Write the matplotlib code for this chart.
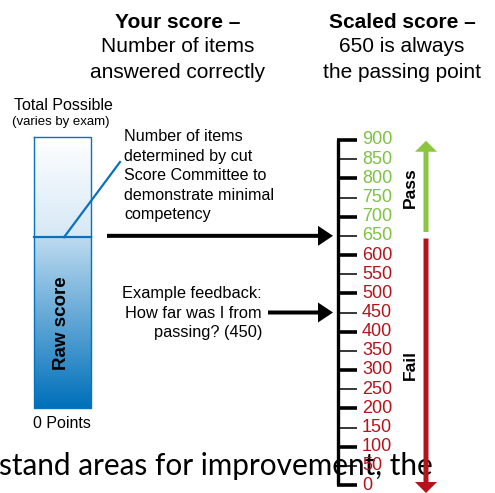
import matplotlib.pyplot as plt
import numpy as np

plt.rcParams['font.family'] = ['Liberation Sans Narrow', 'Liberation Sans', 'DejaVu Sans']

# scaled score scale
scale_ticks = [0, 50, 100, 150, 200, 250, 300, 350, 400, 450,
               500, 550, 600, 650, 700, 750, 800, 850, 900]
pass_score = 650
example_score = 450
# share of the raw score bar below the cut score
cut_fraction = 0.63

GREEN = '#8cc63f'
GREEN_TXT = '#7dc242'
RED = '#b3141c'
BLUE = '#0a72bc'

fig = plt.figure(figsize=(4.95, 4.93), dpi=100)

# layout axes in pixel units
ax = fig.add_axes([0, 0, 1, 1])
ax.set_xlim(0, 495)
ax.set_ylim(493, 0)
ax.axis('off')

# scale axes: y in score units, x in pixels
sx = fig.add_axes([0, 0, 1, 1])
sx.set_xlim(0, 495)
px = 900 / 345.0
sx.set_ylim(-8 * px, 485 * px)
sx.axis('off')
sx.patch.set_alpha(0)

# headers
ax.text(178, 22, 'Your score \u2013', ha='center', va='center', fontsize=15, fontweight='bold')
ax.text(178, 47, 'Number of items', ha='center', va='center', fontsize=15)
ax.text(178, 72, 'answered correctly', ha='center', va='center', fontsize=15)
ax.text(402, 22, 'Scaled score \u2013', ha='center', va='center', fontsize=15, fontweight='bold')
ax.text(402, 47, '650 is always', ha='center', va='center', fontsize=15)
ax.text(402, 72, 'the passing point', ha='center', va='center', fontsize=15)

# raw score bar
bx0, bx1, btop, bbot = 34, 91, 137, 408
bcut = bbot - cut_fraction * (bbot - btop)


def gradient(c0, c1, n=100):
    c0 = np.array(plt.matplotlib.colors.to_rgb(c0))
    c1 = np.array(plt.matplotlib.colors.to_rgb(c1))
    t = np.linspace(0, 1, n)[:, None]
    return (c0 + (c1 - c0) * t)[:, None, :]


ax.imshow(gradient('#ffffff', '#d6e8f5'), extent=(bx0, bx1, bcut, btop),
          origin='upper', aspect='auto', zorder=1)
ax.imshow(gradient('#bcdaef', '#0070ba'), extent=(bx0, bx1, bbot, bcut),
          origin='upper', aspect='auto', zorder=1)
ax.plot([bx0, bx1, bx1, bx0, bx0], [btop, btop, bbot, bbot, btop], color=BLUE, lw=1.0, zorder=2)
ax.plot([bx0, bx1], [bcut, bcut], color=BLUE, lw=1.6, zorder=2)
ax.plot([64, 120], [bcut, 162], color=BLUE, lw=1.6, zorder=2)

ax.text(62, 323, 'Raw score', rotation=90, ha='center', va='center', fontsize=13.5, fontweight='bold')
ax.text(14, 106, 'Total Possible', ha='left', va='center', fontsize=11.5)
ax.text(12, 122, '(varies by exam)', ha='left', va='center', fontsize=9.5)
ax.text(62, 423, '0 Points', ha='center', va='center', fontsize=11.5)

ax.text(124, 129, 'Number of items\ndetermined by cut\nScore Committee to\ndemonstrate minimal\ncompetency',
        ha='left', va='top', fontsize=11.6, linespacing=1.38)
ax.text(262, 313, 'Example feedback:\nHow far was I from\npassing? (450)',
        ha='right', va='center', fontsize=11.8, linespacing=1.38)

# scale line and ticks
sx.plot([338, 338], [0, 900], color='black', lw=2.4, solid_capstyle='butt')
for v in scale_ticks:
    major = v % 100 == 0
    sx.plot([337, 357], [v, v], color='black', lw=2.6 if major else 1.1, solid_capstyle='butt')
    sx.text(362, v, str(v), ha='left', va='center', fontsize=13,
            color=GREEN_TXT if v >= pass_score else RED)

# black arrows into the scale
sx.arrow(107, pass_score, 226, 0, width=4 * px, head_width=20 * px, head_length=15,
         length_includes_head=True, color='black', lw=0)
sx.arrow(268, example_score, 65, 0, width=4 * px, head_width=20 * px, head_length=15,
         length_includes_head=True, color='black', lw=0)

# pass / fail arrows
sx.arrow(426, pass_score + 10, 0, 900 - pass_score - 12, width=5, head_width=22,
         head_length=11 * px, length_includes_head=True, color=GREEN, lw=0)
sx.arrow(426, pass_score - 7, 0, -(pass_score - 7) - 8 * px, width=5, head_width=22,
         head_length=11 * px, length_includes_head=True, color=RED, lw=0)
ax.text(410, 188, 'Pass', rotation=90, ha='center', va='center', fontsize=12.5, fontweight='bold')
ax.text(410, 365, 'Fail', rotation=90, ha='center', va='center', fontsize=12.5, fontweight='bold')

# page text overlapping the bottom of the figure
ax.text(-1, 466, 'stand areas for improvement, the', ha='left', va='center',
        fontsize=21.4, family=['Lato', 'DejaVu Sans'], zorder=5)

fig.savefig('out.png', dpi=100)
